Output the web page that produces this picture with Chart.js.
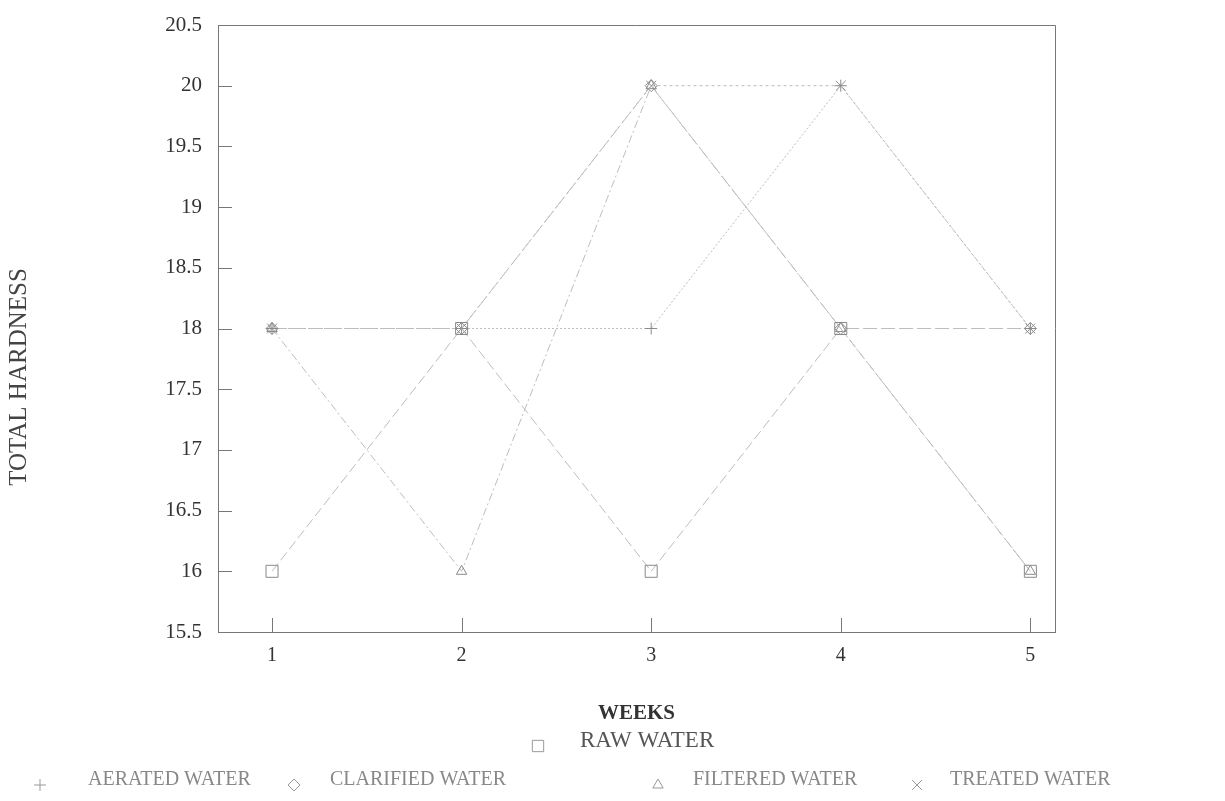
<!DOCTYPE html>
<html>
<head>
<meta charset="utf-8">
<title>Total hardness</title>
<script src="https://cdn.jsdelivr.net/npm/chart.js@4.4.0/dist/chart.umd.min.js"></script>
<style>
  body { margin: 0; background: #fff; }
  #chart { display: block; }
</style>
</head>
<body>
<canvas id="chart" width="1225" height="801"></canvas>
<script>
// weeks on the x axis
var weeks = [1, 2, 3, 4, 5];

// total hardness per week
var rawWater       = [16, 18, 16, 18, 16];
var aeratedWater   = [18, 18, 18, 20, 18];
var clarifiedWater = [18, 18, 20, 18, 18];
var filteredWater  = [18, 16, 20, 18, 16];
var treatedWater   = [18, 18, 20, 20, 18];

var seriesNames = ["RAW WATER", "AERATED WATER", "CLARIFIED WATER", "FILTERED WATER", "TREATED WATER"];

var yMin = 15.5;
var yMax = 20.5;
var yStep = 0.5;

var serif = "'Liberation Serif', 'Times New Roman', serif";
var lineGrey = "#bdbdbd";
var markGrey = "#8a8a8a";

function toPoints(values) {
  return weeks.map(function (w, i) { return { x: w, y: values[i] }; });
}

function makeSet(label, values, style, dash, radius) {
  return {
    label: label,
    data: toPoints(values),
    borderColor: lineGrey,
    borderWidth: 1,
    borderDash: dash,
    pointStyle: style,
    pointRadius: radius,
    pointBorderWidth: 1,
    pointBorderColor: markGrey,
    pointBackgroundColor: "rgba(0,0,0,0)",
    fill: false,
    tension: 0
  };
}

var datasets = [
  makeSet(seriesNames[0], rawWater, "rect", [10, 4], 8.5),
  makeSet(seriesNames[1], aeratedWater, "cross", [2, 2], 6),
  makeSet(seriesNames[2], clarifiedWater, "rectRot", [14, 4], 6),
  makeSet(seriesNames[3], filteredWater, "triangle", [8, 3, 2, 3], 6),
  makeSet(seriesNames[4], treatedWater, "crossRot", [3, 3], 7)
];

// box on top/right, inward tick marks, axis titles and the legend
var framePlugin = {
  id: "frame",
  afterDraw: function (chart) {
    var ctx = chart.ctx;
    var a = chart.chartArea;
    var xs = chart.scales.x;
    var ys = chart.scales.y;
    ctx.save();
    ctx.strokeStyle = "#777";
    ctx.lineWidth = 1;
    ctx.beginPath();
    ctx.moveTo(a.left, a.top + 0.5);
    ctx.lineTo(a.right + 0.5, a.top + 0.5);
    ctx.lineTo(a.right + 0.5, a.bottom);
    // inward ticks
    ys.ticks.forEach(function (t) {
      if (t.value <= yMin || t.value >= yMax) return;
      var py = Math.round(ys.getPixelForValue(t.value)) + 0.5;
      ctx.moveTo(a.left, py);
      ctx.lineTo(a.left + 14, py);
    });
    xs.ticks.forEach(function (t) {
      var px = Math.round(xs.getPixelForValue(t.value)) + 0.5;
      ctx.moveTo(px, a.bottom);
      ctx.lineTo(px, a.bottom - 14);
    });
    ctx.stroke();

    // axis titles
    ctx.fillStyle = "#333";
    ctx.font = "bold 21px " + serif;
    ctx.textAlign = "center";
    ctx.textBaseline = "middle";
    ctx.fillText("WEEKS", (a.left + a.right) / 2, 714);
    ctx.save();
    ctx.translate(19, 377);
    ctx.rotate(-Math.PI / 2);
    ctx.font = "25px " + serif;
    ctx.fillStyle = "#444";
    ctx.fillText("TOTAL HARDNESS", 0, 0);
    ctx.restore();

    // legend: first entry on its own row, the rest below
    var spots = [
      { mx: 538, tx: 580, y: 741, size: 23, color: "#555", r: 8 },
      { mx: 40, tx: 88, y: 780, size: 20, color: "#888", r: 6 },
      { mx: 294, tx: 330, y: 780, size: 20, color: "#888", r: 6 },
      { mx: 658, tx: 693, y: 780, size: 20, color: "#888", r: 6 },
      { mx: 917, tx: 950, y: 780, size: 20, color: "#888", r: 7 }
    ];
    chart.data.datasets.forEach(function (ds, i) {
      var s = spots[i];
      ctx.strokeStyle = "#999";
      ctx.fillStyle = "rgba(0,0,0,0)";
      ctx.lineWidth = 1;
      Chart.helpers.drawPoint(ctx, { pointStyle: ds.pointStyle, radius: s.r, borderWidth: 1, rotation: 0 }, s.mx, s.y + 5);
      ctx.fillStyle = s.color;
      ctx.font = s.size + "px " + serif;
      ctx.textAlign = "left";
      ctx.textBaseline = "middle";
      ctx.fillText(ds.label, s.tx, s.y);
    });
    ctx.restore();
  }
};

var chart = new Chart(document.getElementById("chart"), {
  type: "line",
  data: { datasets: datasets },
  options: {
    responsive: false,
    animation: false,
    devicePixelRatio: 1,
    layout: { padding: { top: 25, right: 170, left: 0, bottom: 0 } },
    plugins: {
      legend: { display: false },
      tooltip: { enabled: false }
    },
    scales: {
      x: {
        type: "linear",
        min: 0.715,
        max: 5.13,
        afterBuildTicks: function (scale) {
          scale.ticks = weeks.map(function (w) { return { value: w }; });
        },
        afterFit: function (scale) {
          scale.height = 169;
          scale.paddingLeft = 0;
          scale.paddingRight = 0;
        },
        grid: { display: false, drawTicks: false },
        border: { display: true, color: "#777" },
        ticks: {
          padding: 12,
          color: "#333",
          font: { family: serif, size: 20 },
          callback: function (v) { return String(v); }
        }
      },
      y: {
        min: yMin,
        max: yMax,
        afterFit: function (scale) {
          scale.width = 218;
          scale.paddingTop = 0;
          scale.paddingBottom = 0;
        },
        grid: { display: false, drawTicks: false },
        border: { display: true, color: "#777" },
        ticks: {
          stepSize: yStep,
          padding: 16,
          color: "#333",
          font: { family: serif, size: 21 },
          callback: function (v) { return String(v); }
        }
      }
    }
  },
  plugins: [framePlugin]
});
</script>
</body>
</html>
